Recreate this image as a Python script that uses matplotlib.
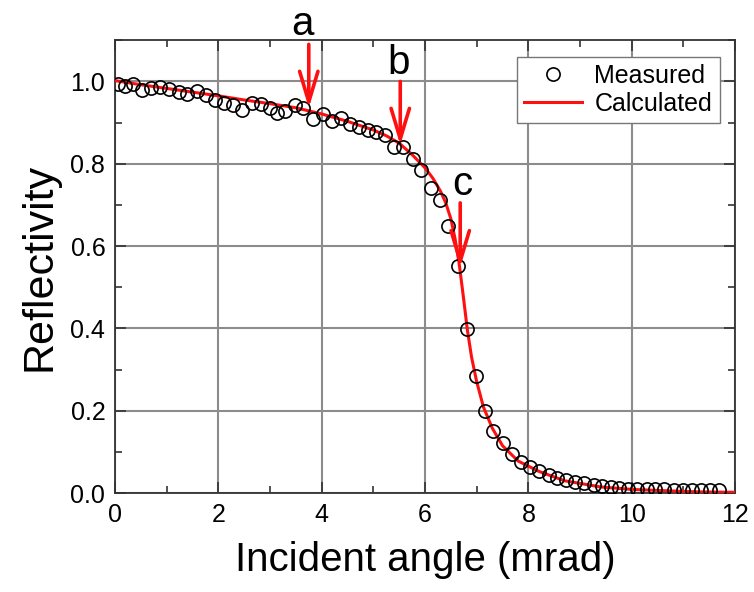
import matplotlib
matplotlib.use("Agg")
import matplotlib.pyplot as plt
from matplotlib.ticker import MultipleLocator

plt.rcParams['font.family'] = ['Liberation Sans', 'DejaVu Sans']

# Measured reflectivity (incident angle in mrad)
meas_x = [0.06, 0.19, 0.35, 0.53, 0.69, 0.87, 1.05, 1.23, 1.40, 1.59, 1.77, 1.94,
          2.11, 2.29, 2.45, 2.65, 2.82, 2.99, 3.13, 3.29, 3.48, 3.64, 3.83, 4.02,
          4.19, 4.37, 4.55, 4.73, 4.90, 5.06, 5.23, 5.40, 5.58, 5.76, 5.92, 6.11,
          6.28, 6.45, 6.64, 6.81, 6.99, 7.16, 7.32, 7.50, 7.69, 7.86, 8.03, 8.21,
          8.39, 8.56, 8.73, 8.90, 9.08, 9.26, 9.42, 9.59, 9.76, 9.93, 10.11, 10.29,
          10.45, 10.62, 10.81, 10.99, 11.16, 11.34, 11.52, 11.69]
meas_y = [0.994, 0.990, 0.993, 0.978, 0.985, 0.986, 0.982, 0.974, 0.970, 0.976, 0.966, 0.956,
          0.947, 0.942, 0.931, 0.948, 0.944, 0.936, 0.923, 0.928, 0.942, 0.936, 0.909, 0.920,
          0.903, 0.912, 0.897, 0.889, 0.883, 0.877, 0.869, 0.841, 0.840, 0.812, 0.784, 0.740,
          0.713, 0.650, 0.552, 0.398, 0.284, 0.199, 0.150, 0.121, 0.096, 0.076, 0.064, 0.053,
          0.044, 0.037, 0.032, 0.027, 0.024, 0.019, 0.018, 0.015, 0.013, 0.011, 0.011, 0.010,
          0.009, 0.009, 0.007, 0.007, 0.007, 0.007, 0.007, 0.007]

# Calculated curve
calc_x = [0.0, 0.5, 1.0, 1.5, 2.0, 2.5, 3.0, 3.5, 4.0, 4.5, 5.0, 5.25, 5.5, 5.75, 6.0,
          6.15, 6.3, 6.4, 6.5, 6.58, 6.66, 6.74, 6.82, 6.9, 7.0, 7.13, 7.3, 7.5, 7.8,
          8.2, 8.7, 9.4, 10.0, 10.7, 11.3, 12.0]
calc_y = [1.002, 0.992, 0.983, 0.974, 0.965, 0.955, 0.946, 0.936, 0.921, 0.903, 0.882,
          0.868, 0.850, 0.822, 0.790, 0.765, 0.733, 0.705, 0.666, 0.618, 0.557, 0.478,
          0.395, 0.330, 0.270, 0.209, 0.158, 0.115, 0.078, 0.053, 0.030, 0.015, 0.009,
          0.0056, 0.003, 0.002]

# Arrow annotations: label, x, arrow top, arrow tip, label position
arrow_labels = ['a', 'b', 'c']
arrow_x = [3.75, 5.52, 6.68]
arrow_top = [1.09, 1.00, 0.705]
arrow_tip = [0.935, 0.845, 0.548]
label_x = [3.63, 5.48, 6.72]
label_y = [1.14, 1.045, 0.75]

RED = '#ff1010'

fig = plt.figure(figsize=(7.54, 5.92), dpi=100)
ax = fig.add_axes([0.1525, 0.167, 0.8225, 0.765])

ax.plot(calc_x, calc_y, color=RED, lw=2.2, label='Calculated', zorder=3)
ax.plot(meas_x, meas_y, linestyle='none', marker='o', ms=9.5, mfc='none',
        mec='black', mew=1.2, label='Measured', zorder=4)

for lab, x, yt, yp, lx, ly in zip(arrow_labels, arrow_x, arrow_top, arrow_tip, label_x, label_y):
    ax.annotate('', xy=(x, yp), xytext=(x, yt),
                arrowprops=dict(arrowstyle='->,head_length=1.1,head_width=0.33',
                                color=RED, lw=2.6, shrinkA=0, shrinkB=0,
                                mutation_scale=20),
                annotation_clip=False, zorder=5)
    ax.text(lx, ly, lab, fontsize=29, ha='center', va='center', clip_on=False, zorder=6)

ax.set_xlim(0, 12)
ax.set_ylim(0, 1.1)
ax.xaxis.set_major_locator(MultipleLocator(2))
ax.xaxis.set_minor_locator(MultipleLocator(1))
ax.yaxis.set_major_locator(MultipleLocator(0.2))
ax.yaxis.set_minor_locator(MultipleLocator(0.1))
ax.set_yticks([0.0, 0.2, 0.4, 0.6, 0.8, 1.0])
ax.set_yticklabels(['0.0', '0.2', '0.4', '0.6', '0.8', '1.0'])
ax.tick_params(which='both', direction='in', top=True, right=True, labelsize=18,
               color='#333333')
ax.tick_params(which='major', length=8, width=1.2, pad=7)
ax.tick_params(which='minor', length=5, width=1.2)
ax.grid(True, which='major', color='#8c8c8c', lw=1.5)
for s in ax.spines.values():
    s.set_color('#333333')
    s.set_linewidth(1.3)

ax.set_xlabel('Incident angle (mrad)', fontsize=29, labelpad=10)
ax.set_ylabel('Reflectivity', fontsize=31, labelpad=8)

handles, labels = ax.get_legend_handles_labels()
leg = ax.legend(handles[::-1], labels[::-1], loc='upper right', fontsize=18,
                frameon=True, fancybox=False, edgecolor='#777777', framealpha=1,
                handlelength=2.3, borderpad=0.3, labelspacing=0.15,
                handletextpad=0.5, borderaxespad=0.0,
                bbox_to_anchor=(0.975, 0.964))
leg.get_frame().set_linewidth(1.0)

fig.savefig('out.png', dpi=100)
